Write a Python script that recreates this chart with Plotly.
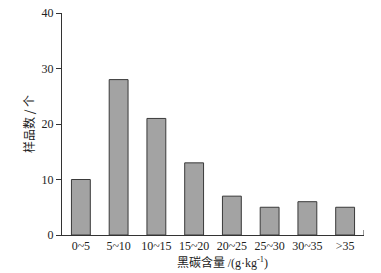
import plotly.graph_objects as go

categories = ["0~5", "5~10", "10~15", "15~20", "20~25", "25~30", "30~35", ">35"]
counts = [10, 28, 21, 13, 7, 5, 6, 5]
y_ticks = [0, 10, 20, 30, 40]

fig = go.Figure()
fig.add_trace(go.Bar(
    x=categories, y=counts, width=0.5,
    marker=dict(color="#a3a3a3", line=dict(color="#3a3a3a", width=1)),
))

fig.update_layout(
    width=381, height=273,
    margin=dict(l=62, r=17, t=13, b=38, autoexpand=False),
    plot_bgcolor="white", paper_bgcolor="white",
    showlegend=False,
    font=dict(family="Liberation Serif", size=12, color="#222"),
)
fig.update_xaxes(
    type="category", range=[-0.5, 7.5], automargin=False,
    showline=True, linecolor="#333", linewidth=1,
    ticks="", showgrid=False, zeroline=False,
    tickfont=dict(family="Liberation Serif", size=12),
)
fig.update_yaxes(
    range=[0, 40], tickvals=y_ticks, automargin=False,
    showline=True, linecolor="#333", linewidth=1,
    ticks="outside", ticklen=5, tickcolor="#333",
    showgrid=False, zeroline=False,
    tickfont=dict(family="Liberation Serif", size=12),
    title=dict(text="样品数 / 个", standoff=4,
               font=dict(family="Noto Sans CJK SC", size=12)),
)
fig.add_annotation(
    text="黑碳含量 <span style=\"font-family:'Liberation Serif'\">/(g·kg<sup>-1</sup>)</span>",
    xref="paper", yref="paper", x=0.53, y=-0.12, xanchor="center", yanchor="middle",
    showarrow=False, font=dict(family="Noto Sans CJK SC, Liberation Serif", size=12),
)
fig.add_shape(type="line", xref="x", yref="y", x0=7.5, x1=7.5, y0=0, y1=0.9,
              line=dict(color="#333", width=1))

fig.write_html("out.html", config={"displayModeBar": False},
               post_script="document.body.style.margin='0';")
